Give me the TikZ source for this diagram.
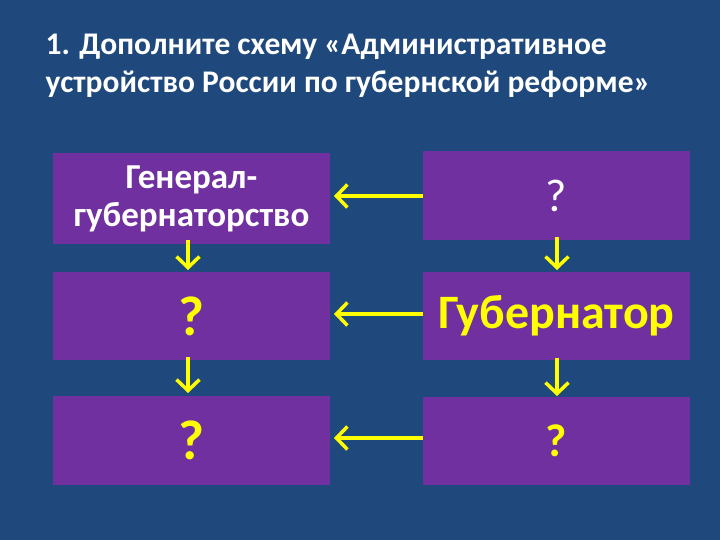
\documentclass[tikz,border=0pt]{standalone}
\usepackage{fontspec}
\setmainfont{Carlito}
\usetikzlibrary{arrows.meta}
\definecolor{bg}{HTML}{1F497D}
\definecolor{pur}{HTML}{7030A0}
\definecolor{yel}{HTML}{FFFF00}
\begin{document}
\begin{tikzpicture}[x=1pt,y=-1pt,
  box/.style={fill=pur,draw=none,inner sep=0,align=center},
  arr/.style={draw=yel,line width=3.5pt,-{Straight Barb[length=11pt,width=23pt,line width=3.5pt]}}]
\fill[bg] (0,0) rectangle (720,540);
\useasboundingbox (0,0) rectangle (720,540);
\node[anchor=north west,text=white,align=left,font=\bfseries\fontsize{31.5}{38}\selectfont] (t) at (42,31) {1. Дополните схему «Административное\\устройство России по губернской реформе»};
\node[box,minimum width=277,minimum height=91,text=white,font=\bfseries\fontsize{35}{38}\selectfont] (l1) at (191.5,198.5) {Генерал-\\губернаторство};
\node[box,minimum width=277,minimum height=88,text=yel,font=\bfseries\fontsize{56}{60}\selectfont] (l2) at (191.5,316) {?};
\node[box,minimum width=277,minimum height=89,text=yel,font=\bfseries\fontsize{56}{60}\selectfont] (l3) at (191.5,440) {?};
\node[box,minimum width=267,minimum height=89,text=white,font=\fontsize{46}{50}\selectfont] (r1) at (556.5,195.5) {?};
\node[box,minimum width=267,minimum height=88,text=yel,font=\bfseries\fontsize{48}{52}\selectfont] (r2) at (556.5,316) {Губернатор};
\node[box,minimum width=267,minimum height=88,text=yel,font=\bfseries\fontsize{46}{50}\selectfont] (r3) at (556.5,441) {?};
\draw[arr] (r1.west|-0,196) -- (334,196);
\draw[arr] (r2.west|-0,314) -- (334,314);
\draw[arr] (r3.west|-0,438) -- (334,438);
\draw[arr] (188,240) -- (188,270);
\draw[arr] (188,357) -- (188,393);
\draw[arr] (557,237) -- (557,270);
\draw[arr] (557,358) -- (557,396);
\end{tikzpicture}
\end{document}
